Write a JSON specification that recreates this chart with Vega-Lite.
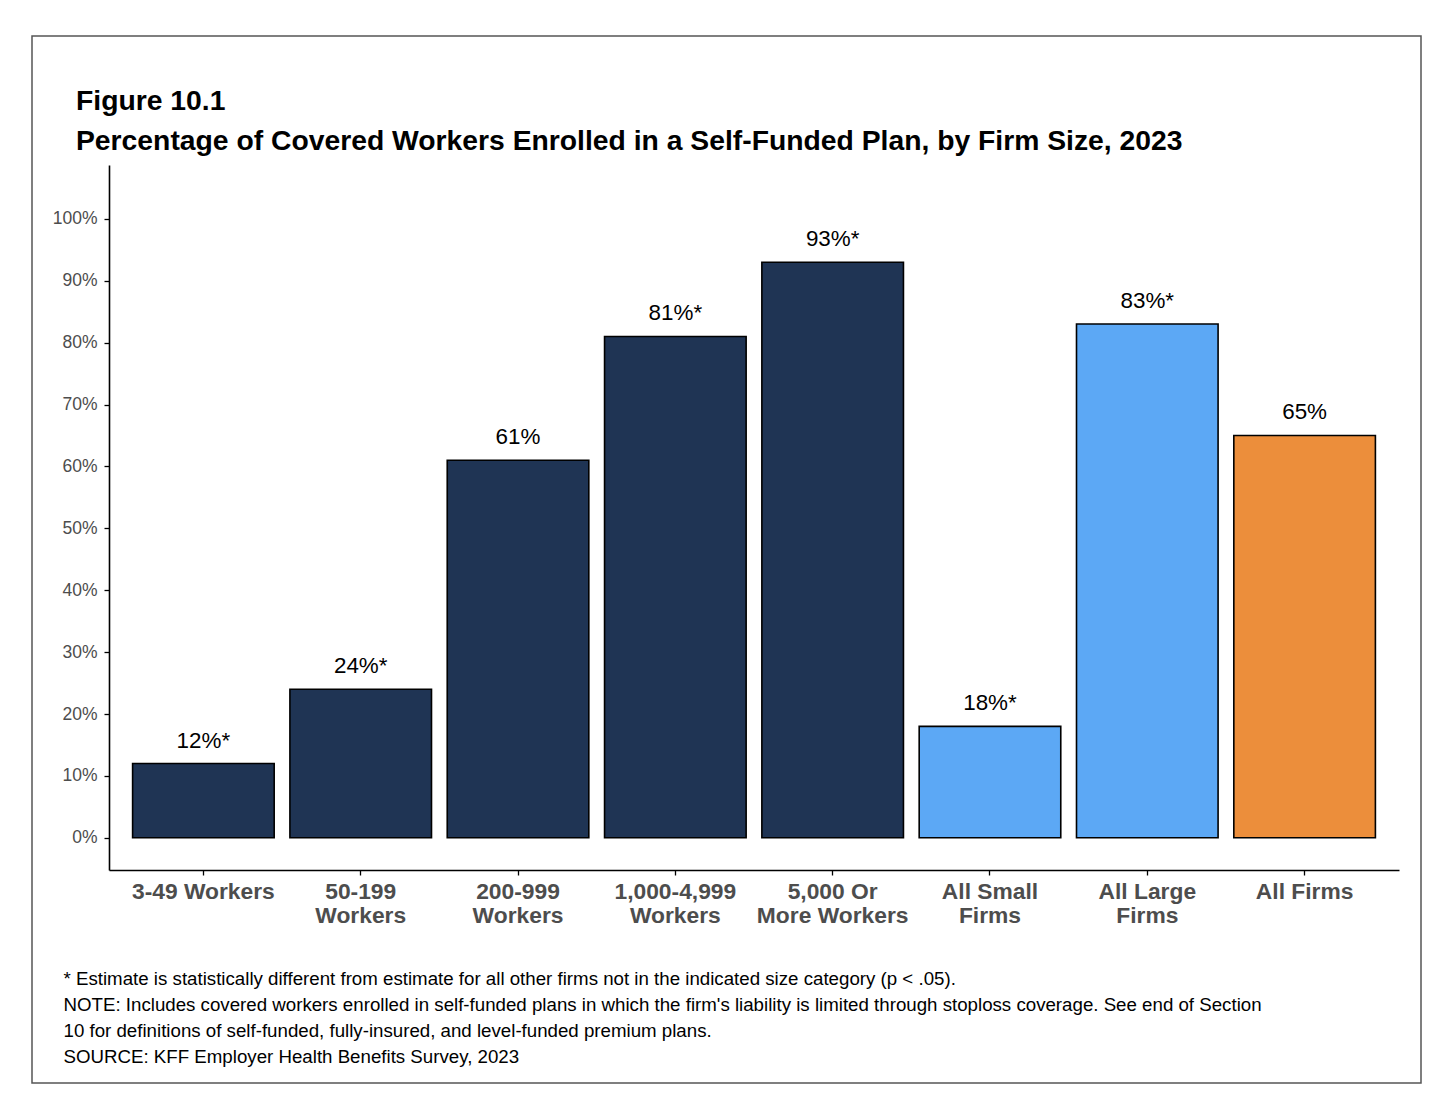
{
  "$schema": "https://vega.github.io/schema/vega-lite/v6.json",
  "width": 1389,
  "height": 1047,
  "autosize": "none",
  "padding": {"left": 32, "top": 36, "right": 29, "bottom": 23},
  "background": "white",
  "config": {
    "font": "Liberation Sans",
    "view": {"stroke": "#555555", "strokeWidth": 1.5},
    "axis": {"grid": false, "domainColor": "black", "domainWidth": 1.6, "tickColor": "black", "tickWidth": 1.3, "tickSize": 5}
  },
  "title": {
    "text": ["Figure 10.1", "Percentage of Covered Workers Enrolled in a Self-Funded Plan, by Firm Size, 2023"],
    "anchor": "start",
    "frame": "group",
    "font": "Liberation Sans",
    "fontSize": 28.3,
    "fontWeight": "bold",
    "color": "black",
    "lineHeight": 40,
    "baseline": "bottom",
    "offset": 0,
    "dx": 44,
    "dy": 148
  },
  "data": {
    "values": [
      {"firm": "3-49 Workers", "pct": 12, "label": "12%*", "group": "size"},
      {"firm": "50-199 Workers", "pct": 24, "label": "24%*", "group": "size"},
      {"firm": "200-999 Workers", "pct": 61, "label": "61%", "group": "size"},
      {"firm": "1,000-4,999 Workers", "pct": 81, "label": "81%*", "group": "size"},
      {"firm": "5,000 Or More Workers", "pct": 93, "label": "93%*", "group": "size"},
      {"firm": "All Small Firms", "pct": 18, "label": "18%*", "group": "smalllarge"},
      {"firm": "All Large Firms", "pct": 83, "label": "83%*", "group": "smalllarge"},
      {"firm": "All Firms", "pct": 65, "label": "65%", "group": "all"}
    ]
  },
  "encoding": {
    "x": {
      "field": "firm",
      "type": "nominal",
      "sort": null,
      "scale": {"range": [77, 1367], "paddingInner": 0.1, "paddingOuter": 0.15},
      "axis": {
        "orient": "bottom",
        "offset": -213,
        "labelAngle": 0,
        "labelFont": "Liberation Sans",
        "labelFontSize": 22.8,
        "labelFontWeight": "bold",
        "labelColor": "#4d4d4d",
        "labelPadding": 5,
        "labelLineHeight": 24,
        "labelBaseline": "top",
        "labelExpr": "datum.value == '3-49 Workers' || datum.value == 'All Firms' ? datum.value : datum.value == '5,000 Or More Workers' ? ['5,000 Or', 'More Workers'] : [substring(datum.value, 0, lastindexof(datum.value, ' ')), substring(datum.value, lastindexof(datum.value, ' ') + 1)]",
        "title": [
          "* Estimate is statistically different from estimate for all other firms not in the indicated size category (p < .05).",
          "NOTE: Includes covered workers enrolled in self-funded plans in which the firm's liability is limited through stoploss coverage. See end of Section",
          "10 for definitions of self-funded, fully-insured, and level-funded premium plans.",
          "SOURCE: KFF Employer Health Benefits Survey, 2023"
        ],
        "titleFont": "Liberation Sans",
        "titleFontSize": 18.7,
        "titleFontWeight": "normal",
        "titleColor": "black",
        "titleLineHeight": 26.3,
        "titleAnchor": "start",
        "titleAlign": "left",
        "titleBaseline": "alphabetic",
        "titleX": 31,
        "titleY": 114
      }
    },
    "y": {
      "field": "pct",
      "type": "quantitative",
      "scale": {"domain": [-5.2, 108.7], "range": [834, 129], "nice": false, "zero": false},
      "axis": {
        "orient": "left",
        "offset": -77,
        "values": [0, 10, 20, 30, 40, 50, 60, 70, 80, 90, 100],
        "labelExpr": "datum.value + '%'",
        "labelFont": "Liberation Sans",
        "labelFontSize": 17.5,
        "labelColor": "#4d4d4d",
        "labelPadding": 7,
        "title": null
      }
    }
  },
  "layer": [
    {
      "mark": {"type": "bar", "stroke": "black", "strokeWidth": 1.6},
      "encoding": {
        "y2": {"datum": 0},
        "color": {
          "field": "group",
          "type": "nominal",
          "scale": {"domain": ["size", "smalllarge", "all"], "range": ["#1f3454", "#5ca8f5", "#ec8e3b"]},
          "legend": null
        }
      }
    },
    {
      "mark": {"type": "text", "baseline": "alphabetic", "dy": -16, "fontSize": 22.4, "font": "Liberation Sans", "color": "black"},
      "encoding": {"text": {"field": "label"}}
    }
  ]
}
